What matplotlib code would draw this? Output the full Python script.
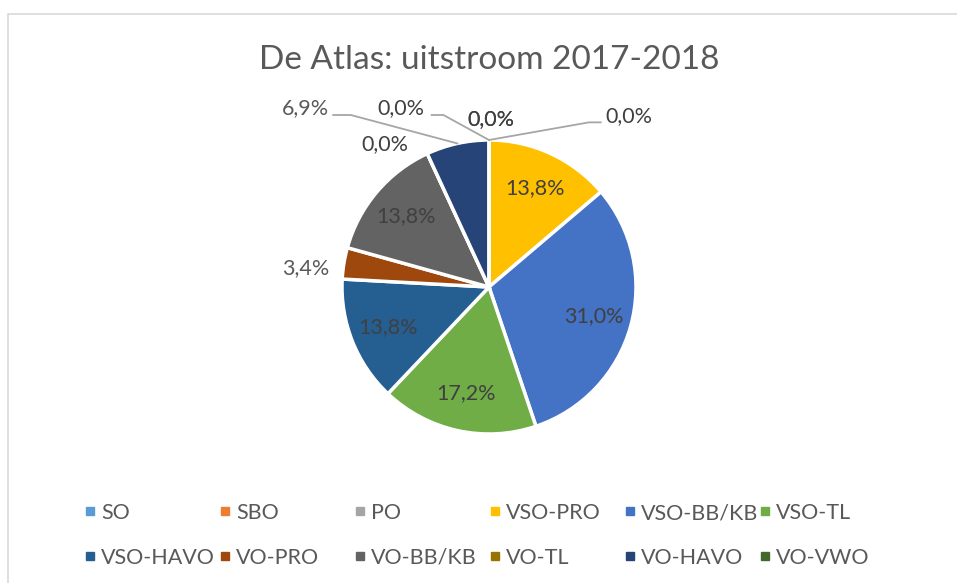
import numpy as np
import matplotlib
matplotlib.use("Agg")
import matplotlib.pyplot as plt
from matplotlib.lines import Line2D
from matplotlib.patches import Rectangle

plt.rcParams['font.family'] = ['Lato', 'DejaVu Sans']

categories = ['SO', 'SBO', 'PO', 'VSO-PRO', 'VSO-BB/KB', 'VSO-TL',
              'VSO-HAVO', 'VO-PRO', 'VO-BB/KB', 'VO-TL', 'VO-HAVO', 'VO-VWO']
counts = [0, 0, 0, 4, 9, 5, 4, 1, 4, 0, 2, 0]
colors = ['#5B9BD5', '#ED7D31', '#A5A5A5', '#FFC000', '#4472C4', '#70AD47',
          '#255E91', '#9E480E', '#636363', '#997300', '#264478', '#43682B']

total = sum(counts)
pcts = [100.0 * c / total for c in counts]

def fmt(p):
    return ('%.1f%%' % p).replace('.', ',')

W, H = 957, 583
fig = plt.figure(figsize=(W / 100, H / 100), dpi=100)

# chart area border (Excel frame)
fig.add_artist(Rectangle((8 / W, -0.1), 1.2, 1.1 - 14 / H, transform=fig.transFigure,
                         fill=False, edgecolor='#D9D9D9', linewidth=1.2, clip_on=False))

fig.text(489 / W, 1 - 60 / H, 'De Atlas: uitstroom 2017-2018', ha='center', va='center',
         fontsize=24, color='#595959')

cx, cy, r = 489, 287, 147
ax = fig.add_axes([(cx - r) / W, (H - cy - r) / H, 2 * r / W, 2 * r / H])
wedges, _ = ax.pie(counts, colors=colors, startangle=90, counterclock=False, radius=1,
                   wedgeprops=dict(edgecolor='white', linewidth=2.5))
ax.set_xlim(-1, 1)
ax.set_ylim(-1, 1)
ax.axis('off')

lab_col = '#404040'
out_col = '#595959'
fs = 15.5

# labels inside the big slices
for i, w in enumerate(wedges):
    if pcts[i] < 10:
        continue
    ang = np.deg2rad((w.theta1 + w.theta2) / 2)
    ax.text(0.74 * np.cos(ang), 0.74 * np.sin(ang), fmt(pcts[i]), ha='center', va='center',
            fontsize=fs, color=lab_col)

# outside labels: (text position, leader line points) in pie units
outside = {
    'VO-PRO': ((-1.25, 0.13), None),
    'VO-HAVO': ((-1.25, 1.22), [(-1.06, 1.17), (-0.94, 1.17)]),
    'VO-VWO': ((-0.60, 1.22), [(-0.39, 1.17), (-0.31, 1.17)]),
    'VO-TL': ((-0.71, 0.97), None),
    'SO': ((0.01, 1.14), None),
    'SBO': ((0.01, 1.14), None),
    'PO': ((0.95, 1.16), [(0.76, 1.12), (0.68, 1.12)]),
}
for name, (pos, line) in outside.items():
    i = categories.index(name)
    w = wedges[i]
    ax.text(pos[0], pos[1], fmt(pcts[i]), ha='center', va='center', fontsize=fs,
            color=out_col if counts[i] else lab_col, clip_on=False)
    if line:
        ang = np.deg2rad((w.theta1 + w.theta2) / 2)
        xs = [p[0] for p in line] + [np.cos(ang)]
        ys = [p[1] for p in line] + [np.sin(ang)]
        ax.plot(xs, ys, color='#A6A6A6', linewidth=1.3, clip_on=False)

# legend: 6 columns of 2 rows, uniform column width like Excel
for col in range(6):
    idx = [col, col + 6]
    handles = [Line2D([], [], marker='s', linestyle='none', markersize=6,
                      markerfacecolor=colors[j], markeredgecolor=colors[j]) for j in idx]
    leg = fig.legend(handles, [categories[j] for j in idx], loc='upper left',
                     bbox_to_anchor=((85 + 135 * col) / W, 1 - 503 / H), frameon=False,
                     fontsize=15.5, labelcolor='#595959', handlelength=0.45, handletextpad=0.3,
                     labelspacing=1.15, borderpad=0, borderaxespad=0)

fig.savefig('out.png', dpi=100)
